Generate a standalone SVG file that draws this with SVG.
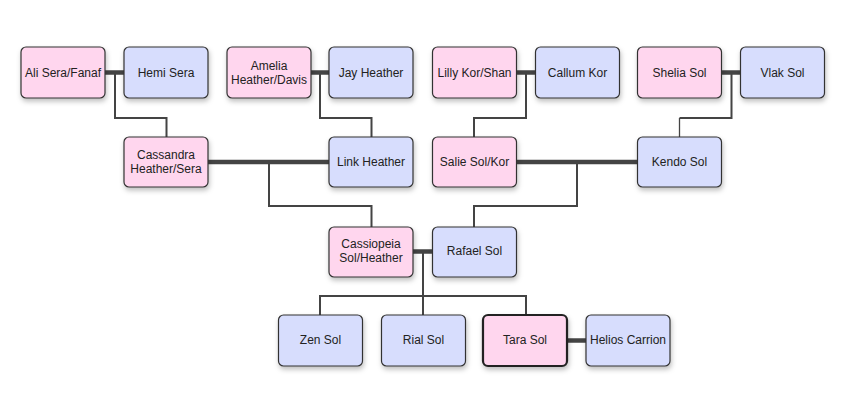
<svg xmlns="http://www.w3.org/2000/svg" width="854" height="411" viewBox="0 0 854 411">
<style>
.n rect{stroke:#333;stroke-width:1.2;filter:url(#sh)}
.f rect{fill:#ffd6ee}
.m rect{fill:#d7ddfd}
.n text{font-family:"Liberation Sans",Arial,sans-serif;font-size:12px;fill:#222;text-anchor:middle}
.c path{fill:none;stroke:#444;stroke-width:2}
.c .s{stroke-width:4.5}
</style>
<defs>
<filter id="sh" x="-20%" y="-20%" width="150%" height="160%">
<feDropShadow dx="1" dy="3" stdDeviation="2.5" flood-color="#000" flood-opacity="0.25"/>
</filter>
</defs>
<rect width="854" height="411" fill="#fff"/>
<g class="c">
<path class="s" d="M105 72.5H124"/>
<path d="M115 72.5V118H166.5V137"/>
<path class="s" d="M311 72.5H329"/>
<path d="M320 72.5V118H371.5V137"/>
<path class="s" d="M517 72.5H535"/>
<path d="M526 72.5V118H474V137"/>
<path class="s" d="M721 72.5H741"/>
<path d="M731.5 72.5V118H679.5"/>
<path d="M679.5 118V137" style="stroke-width:1.3"/>
<path class="s" d="M208 162H329"/>
<path d="M269 162V206H371.5V227"/>
<path class="s" d="M516 162H637"/>
<path d="M577 162V206H474V227"/>
<path class="s" d="M413 251.5H432"/>
<path d="M423 251.5V296"/>
<path d="M320 315V296H526V315M423 296V315"/>
<path class="s" d="M567 340.5H586"/>
</g>
<g id="ali" class="n f"><rect x="21" y="47" width="84" height="51" rx="5"/><text x="63" y="77">Ali Sera/Fanaf</text></g>
<g id="hemi" class="n m"><rect x="124" y="47" width="84" height="51" rx="5"/><text x="166" y="77">Hemi Sera</text></g>
<g id="amelia" class="n f"><rect x="227" y="47" width="84" height="51" rx="5"/><text x="269" y="70">Amelia</text><text x="269" y="84">Heather/Davis</text></g>
<g id="jay" class="n m"><rect x="329" y="47" width="84" height="51" rx="5"/><text x="371" y="77">Jay Heather</text></g>
<g id="lilly" class="n f"><rect x="432.5" y="47" width="84" height="51" rx="5"/><text x="474.5" y="77">Lilly Kor/Shan</text></g>
<g id="callum" class="n m"><rect x="535.5" y="47" width="84" height="51" rx="5"/><text x="577.5" y="77">Callum Kor</text></g>
<g id="shelia" class="n f"><rect x="637.5" y="47" width="84" height="51" rx="5"/><text x="679.5" y="77">Shelia Sol</text></g>
<g id="vlak" class="n m"><rect x="740.5" y="47" width="84" height="51" rx="5"/><text x="782.5" y="77">Vlak Sol</text></g>
<g id="cassandra" class="n f"><rect x="124" y="137" width="84" height="50" rx="5"/><text x="166" y="159">Cassandra</text><text x="166" y="173">Heather/Sera</text></g>
<g id="link" class="n m"><rect x="329" y="137" width="84" height="50" rx="5"/><text x="371" y="166">Link Heather</text></g>
<g id="salie" class="n f"><rect x="432.5" y="137" width="84" height="50" rx="5"/><text x="474.5" y="166">Salie Sol/Kor</text></g>
<g id="kendo" class="n m"><rect x="637.5" y="137" width="84" height="50" rx="5"/><text x="679.5" y="166">Kendo Sol</text></g>
<g id="cassiopeia" class="n f"><rect x="329" y="227" width="84" height="50" rx="5"/><text x="371" y="248">Cassiopeia</text><text x="371" y="262">Sol/Heather</text></g>
<g id="rafael" class="n m"><rect x="432.5" y="227" width="84" height="50" rx="5"/><text x="474.5" y="255">Rafael Sol</text></g>
<g id="zen" class="n m"><rect x="278.5" y="315" width="84" height="51" rx="5"/><text x="320.5" y="344">Zen Sol</text></g>
<g id="rial" class="n m"><rect x="381.5" y="315" width="84" height="51" rx="5"/><text x="423.5" y="344">Rial Sol</text></g>
<g id="tara" class="n f"><rect x="483" y="315" width="84" height="51" rx="5" style="stroke:#222;stroke-width:2.2"/><text x="525" y="344">Tara Sol</text></g>
<g id="helios" class="n m"><rect x="586" y="315" width="84" height="51" rx="5"/><text x="628" y="344">Helios Carrion</text></g>
</svg>
